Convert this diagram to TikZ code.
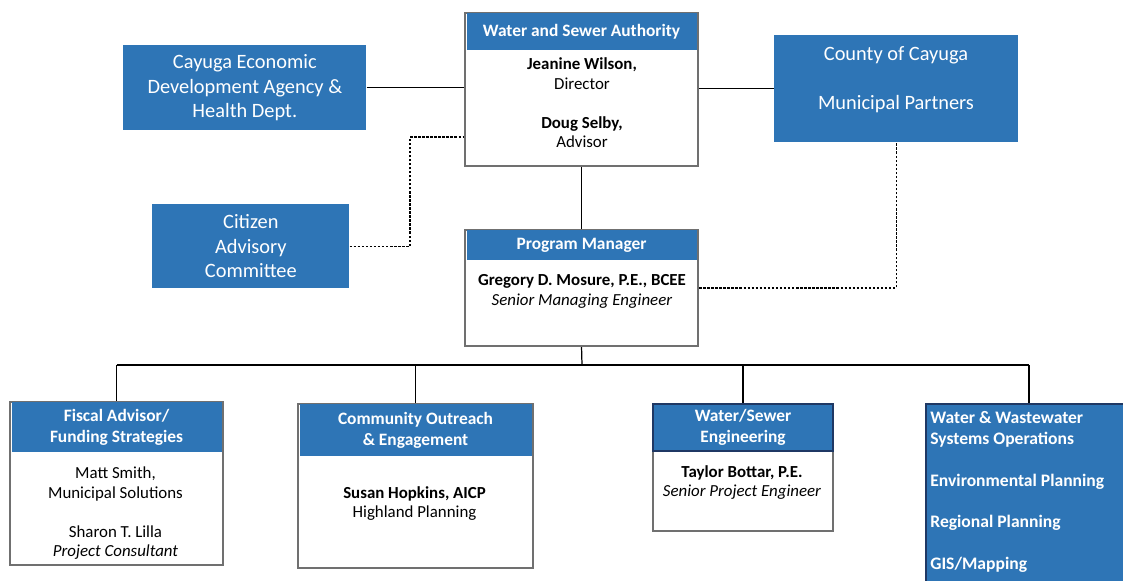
\documentclass[tikz,border=0pt]{standalone}
\usepackage{fontspec}
\setmainfont{Carlito}
\usetikzlibrary{positioning}

\definecolor{hdrblue}{RGB}{46,117,182}
\definecolor{boxgray}{RGB}{112,112,112}
\definecolor{navy}{RGB}{31,56,100}

\tikzset{
  orgbox/.style={draw=boxgray, line width=1.2pt, fill=white, anchor=north west, inner sep=0pt},
  hdr/.style={fill=hdrblue, text=white, anchor=north, inner sep=0pt, align=center,
              font=\bfseries\fontsize{9.9}{11.6}\selectfont},
  bluebox/.style={fill=hdrblue, text=white, anchor=north west, inner sep=0pt, align=center,
              font=\fontsize{11.6}{13.9}\selectfont},
  body/.style={align=center, inner sep=0pt, font=\fontsize{9.6}{11.1}\selectfont},
  link/.style={line width=0.7pt},
  dotlink/.style={line width=0.7pt, dash pattern=on 1.4pt off 0.9pt}
}

\begin{document}
\begin{tikzpicture}[x=0.02cm, y=-0.02cm]
\useasboundingbox (0,0) rectangle (1123,581);

% top row
\node[orgbox, minimum width=4.66cm, minimum height=3.06cm] (wsa) at (464,12) {};
\node[hdr, minimum width=4.6cm, minimum height=0.74cm] (wsahdr) at ([yshift=-0.6pt]wsa.north)
    {Water and Sewer Authority};
\node[body] (wsatxt) at (582,103)
    {\textbf{Jeanine Wilson,}\\Director\\[11.1pt]\textbf{Doug Selby,}\\Advisor};

\node[bluebox, minimum width=4.86cm, minimum height=1.7cm] (ceda) at (123,45)
    {Cayuga Economic\\Development Agency \&\\Health Dept.};

\node[bluebox, minimum width=4.88cm, minimum height=2.14cm] (county) at (774,35) {};
\node[bluebox, anchor=center] (countytxt) at (896,80)
    {County of Cayuga\\[14pt]Municipal Partners};

\node[bluebox, minimum width=3.94cm, minimum height=1.68cm] (citizen) at (152,204)
    {Citizen\\Advisory\\Committee};

% program manager
\node[orgbox, minimum width=4.66cm, minimum height=2.32cm] (pm) at (464,229) {};
\node[hdr, minimum width=4.6cm, minimum height=0.6cm] (pmhdr) at ([yshift=-0.6pt]pm.north)
    {Program Manager};
\node[body] (pmtxt) at (582,291.5)
    {\textbf{Gregory D. Mosure, P.E., BCEE}\\\textit{Senior Managing Engineer}};

% bottom row
\node[orgbox, minimum width=4.26cm, minimum height=3.26cm] (fiscal) at (9,401) {};
\node[hdr, minimum width=4.2cm, minimum height=1cm] (fiscalhdr) at ([yshift=-0.6pt]fiscal.north)
    {Fiscal Advisor/\\Funding Strategies};
\node[body] (fiscaltxt) at (115.5,513.5)
    {Matt Smith,\\Municipal Solutions\\[11.1pt]Sharon T. Lilla\\\textit{Project Consultant}};

\node[orgbox, minimum width=4.7cm, minimum height=3.28cm] (outreach) at (297,403) {};
\node[hdr, minimum width=4.64cm, minimum height=1.04cm] (outreachhdr) at ([yshift=-0.6pt]outreach.north)
    {Community Outreach\\\& Engagement};
\node[body] (outreachtxt) at (414.5,503.5)
    {\textbf{Susan Hopkins, AICP}\\Highland Planning};

\node[orgbox, minimum width=3.6cm, minimum height=2.54cm] (wse) at (652,403) {};
\node[hdr, draw=navy, line width=1.2pt, minimum width=3.6cm, minimum height=0.94cm] (wsehdr) at (wse.north)
    {Water/Sewer\\Engineering};
\node[body] (wsetxt) at (742,482.5)
    {\textbf{Taylor Bottar, P.E.}\\\textit{Senior Project Engineer}};

\node[bluebox, draw=navy, line width=1.2pt, minimum width=4.12cm, minimum height=3.6cm] (ops) at (925,403) {};
\node[body, anchor=west, align=left, text=white, font=\bfseries\fontsize{10}{11.9}\selectfont] (opstxt) at (930,492)
    {Water \& Wastewater\\Systems Operations\\[11.9pt]Environmental Planning\\[11.9pt]Regional Planning\\[11.9pt]GIS/Mapping};

% connectors
\draw[link] (ceda.east) -- (wsa.west |- ceda.east);
\draw[link] (wsa.east |- county.west) -- (county.west);
\draw[link] (wsa.south) -- (pm.north);

\coordinate (cbend) at (410,137);
\draw[dotlink] (citizen.east) -| (cbend) -- (cbend -| wsa.west);
\draw[dotlink] (pm.east) -| (county.south);

\coordinate (bus) at (582,365);
\draw[link] (pm.south) -- (bus);
\draw[link] (fiscal.north |- bus) -- (ops.north |- bus);
\foreach \b in {fiscal,outreach,wse,ops}
    \draw[link] (\b.north |- bus) -- (\b.north);
\end{tikzpicture}
\end{document}
